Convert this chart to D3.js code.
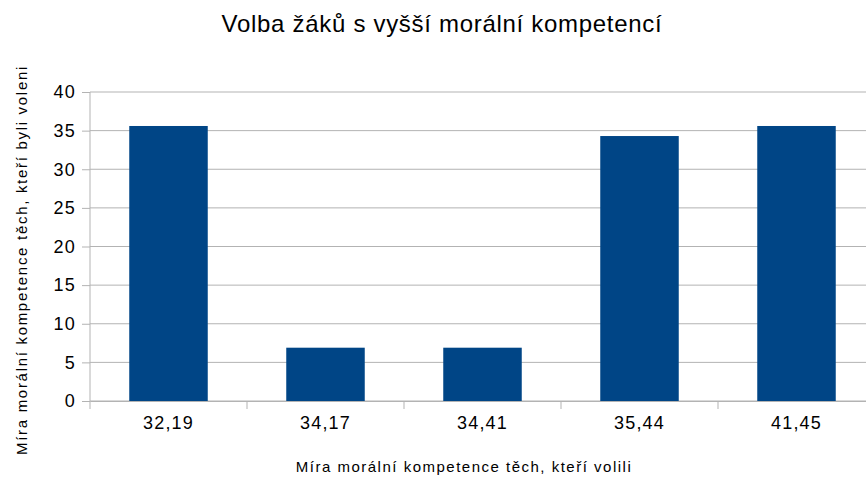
<!DOCTYPE html>
<html>
<head>
<meta charset="utf-8">
<script src="https://cdn.jsdelivr.net/npm/d3@7"></script>
<style>
body { margin: 0; background: #fff; }
text { font-family: "Liberation Sans", Arial, sans-serif; fill: #000; }
</style>
</head>
<body>
<svg width="866" height="478"></svg>
<script>
var categories = ["32,19", "34,17", "34,41", "35,44", "41,45"];
var values = [35.6, 6.9, 6.9, 34.3, 35.6];
var yTicks = [0, 5, 10, 15, 20, 25, 30, 35, 40];

var svg = d3.select("svg"),
    margin = {top: 92, left: 90},
    width = 785,
    height = 309,
    g = svg.append("g").attr("transform", "translate(" + margin.left + "," + margin.top + ")");

var x = d3.scaleBand().domain(categories).range([0, width]).paddingInner(0.5).paddingOuter(0.25);
var y = d3.scaleLinear().domain([0, 40]).range([height, 0]);

// grid
g.selectAll(".grid").data(yTicks).enter().append("line")
    .attr("x1", 0).attr("x2", width)
    .attr("y1", function(d) { return y(d); }).attr("y2", function(d) { return y(d); })
    .attr("stroke", "#b3b3b3").attr("stroke-width", 1);

g.selectAll(".bar").data(values).enter().append("rect")
    .attr("x", function(d, i) { return x(categories[i]); })
    .attr("width", x.bandwidth())
    .attr("y", function(d) { return y(d); })
    .attr("height", function(d) { return height - y(d); })
    .attr("fill", "#004586");

// y axis
var yAxis = g.append("g").call(d3.axisLeft(y).tickValues(yTicks).tickSize(8).tickPadding(6));
yAxis.select(".domain").attr("stroke", "#b3b3b3").attr("d", "M0,0V" + (height + 8));
yAxis.selectAll("line").attr("stroke", "#b3b3b3");
yAxis.selectAll("text").style("font-size", "18px").style("letter-spacing", "1.2px").attr("fill", "#000");

// x axis
var xAxis = g.append("g").attr("transform", "translate(0," + height + ")")
    .call(d3.axisBottom(x).tickSize(0).tickPadding(15));
xAxis.select(".domain").attr("stroke", "#b3b3b3");
xAxis.selectAll("text").style("font-size", "18px").style("letter-spacing", "1.2px").attr("fill", "#000");
var bounds = d3.range(1, categories.length).map(function(i) { return x(categories[i]) - x.step() * x.paddingInner() / 2; });
g.selectAll(".xt").data(bounds).enter().append("line")
    .attr("x1", function(d) { return d; }).attr("x2", function(d) { return d; })
    .attr("y1", height).attr("y2", height + 8)
    .attr("stroke", "#b3b3b3");

svg.append("text").attr("x", 442).attr("y", 32).attr("text-anchor", "middle")
    .style("font-size", "24px").style("letter-spacing", "0.7px").text("Volba žáků s vyšší morální kompetencí");
svg.append("text").attr("x", 464).attr("y", 472).attr("text-anchor", "middle")
    .style("font-size", "15px").style("letter-spacing", "1.5px").text("Míra morální kompetence těch, kteří volili");
svg.append("text").attr("transform", "translate(27,260) rotate(-90)").attr("text-anchor", "middle")
    .style("font-size", "15px").style("letter-spacing", "1.7px").text("Míra morální kompetence těch, kteří byli voleni");
</script>
</body>
</html>
